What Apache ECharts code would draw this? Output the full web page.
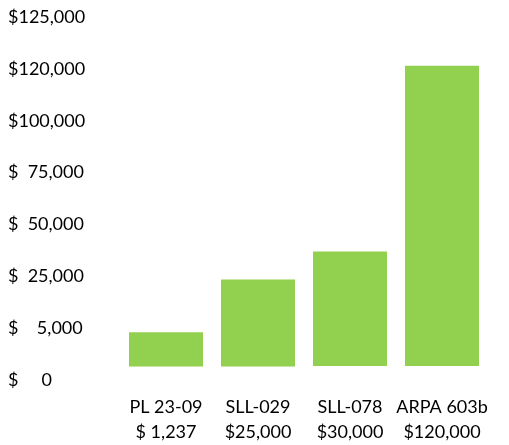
<!DOCTYPE html>
<html>
<head>
<meta charset="utf-8">
<script src="https://cdn.jsdelivr.net/npm/echarts@6/dist/echarts.min.js"></script>
<style>
  html, body { margin: 0; padding: 0; background: #fff; }
  #main { width: 509px; height: 445px; }
</style>
</head>
<body>
<div id="main"></div>
<script>
// grant names and amounts
var projects = ['PL 23-09', 'SLL-029', 'SLL-078', 'ARPA 603b'];
var amounts = ['$ 1,237', '$25,000', '$30,000', '$120,000'];

// y tick labels, bottom to top (evenly spaced, not to scale)
var tickLabels = ['$     0', '$    5,000', '$  25,000', '$  50,000', '$  75,000', '$100,000', '$120,000', '$125,000'];

// bar ends, in tick steps
var barBase = [0.26, 0.26, 0.27, 0.27];
var barTop = [0.92, 1.94, 2.48, 6.06];

var chart = echarts.init(document.getElementById('main'));

var option = {
  animation: false,
  textStyle: { fontFamily: 'Lato' },
  grid: { left: 120, right: 21, top: 17, bottom: 64 },
  xAxis: {
    type: 'category',
    data: projects.map(function (p, i) { return p + '\n' + amounts[i]; }),
    axisLine: { show: false },
    axisTick: { show: false },
    axisLabel: { color: '#000', fontSize: 18, lineHeight: 25, margin: 15, interval: 0 }
  },
  yAxis: {
    type: 'value',
    min: 0,
    max: 7,
    interval: 1,
    splitLine: { show: false },
    axisLine: { show: false },
    axisTick: { show: false },
    axisLabel: {
      color: '#000',
      fontSize: 18,
      align: 'left',
      margin: 112,
      formatter: function (v) { return tickLabels[Math.round(v)]; }
    }
  },
  series: [
    {
      type: 'bar',
      stack: 'g',
      barWidth: 74,
      itemStyle: { color: 'transparent' },
      data: barBase
    },
    {
      type: 'bar',
      stack: 'g',
      barWidth: 74,
      itemStyle: { color: '#92D050' },
      data: barTop.map(function (t, i) { return +(t - barBase[i]).toFixed(2); })
    }
  ]
};

chart.setOption(option);
</script>
</body>
</html>
